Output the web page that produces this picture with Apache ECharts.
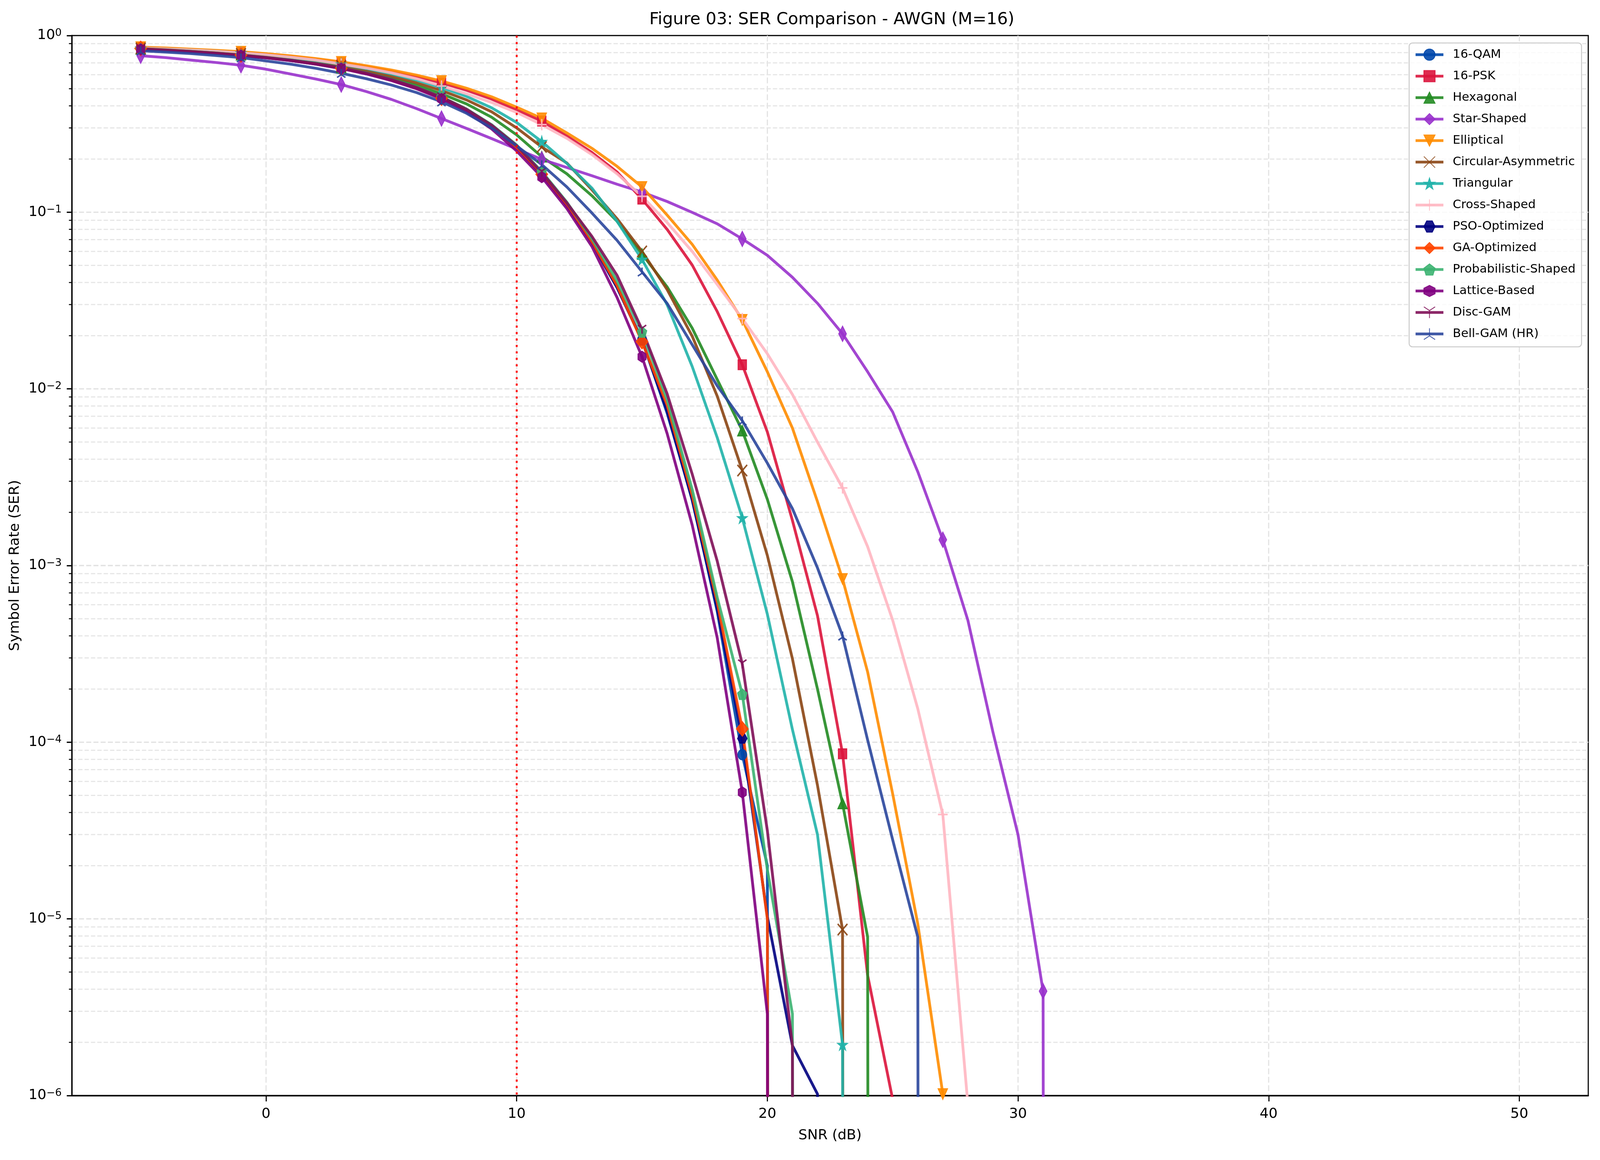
<!DOCTYPE html>
<html>
<head>
<meta charset="utf-8">
<script src="https://cdn.jsdelivr.net/npm/echarts@6/dist/echarts.min.js"></script>
<style>
html,body{margin:0;padding:0;background:#ffffff;overflow:hidden;}
#chart{width:100vw;height:100vh;}
</style>
</head>
<body>
<div id="chart"></div>
<script>
// ---------------- data ----------------
const SNR_DB = [-5,-4,-3,-2,-1,0,1,2,3,4,5,6,7,8,9,10,11,12,13,14,15,16,17,18,19,20,21,22,23,24,25,26,27,28,29,30,31,32];
const X_TICKS = [0, 10, 20, 30, 40, 50];
const Y_TICKS = [1e-6, 1e-5, 1e-4, 1e-3, 1e-2, 1e-1, 1];
const THRESHOLD_SNR = 10;
const MARK_EVERY = 4;

const SER_16QAM = [0.838,0.825,0.810,0.793,0.773,0.750,0.723,0.691,0.654,0.611,0.562,0.507,0.446,0.380,0.308,0.234,0.165,0.110,0.068,0.038,0.019,7.3e-3,2.4e-3,5.5e-4,8.5e-5,2.0e-5,0,0,0,0,0,0,0,0,0,0,0,0];
const SER_16PSK = [0.855,0.845,0.832,0.818,0.803,0.783,0.760,0.732,0.700,0.665,0.627,0.585,0.540,0.490,0.437,0.380,0.328,0.270,0.218,0.169,0.1186,0.080,0.0503,0.0274,0.0137,5.7e-3,1.8e-3,5.2e-4,8.6e-5,4.8e-6,9.5e-7,0,0,0,0,0,0,0];
const SER_HEXAGONAL = [0.840,0.828,0.814,0.798,0.779,0.756,0.729,0.697,0.660,0.618,0.572,0.522,0.468,0.410,0.345,0.274,0.206,0.165,0.124,0.089,0.058,0.0378,0.0221,0.0113,5.8e-3,2.37e-3,8.1e-4,2.0e-4,4.5e-5,7.9e-6,0,0,0,0,0,0,0,0];
const SER_STAR = [0.769,0.750,0.726,0.704,0.679,0.645,0.605,0.567,0.528,0.482,0.435,0.386,0.339,0.298,0.261,0.228,0.199,0.179,0.161,0.144,0.130,0.115,0.0998,0.086,0.0706,0.057,0.0428,0.0305,0.0205,0.0125,7.4e-3,3.4e-3,1.4e-3,4.9e-4,1.14e-4,3.0e-5,3.9e-6,0];
const SER_ELLIPTICAL = [0.860,0.850,0.838,0.825,0.810,0.790,0.767,0.740,0.710,0.675,0.638,0.597,0.553,0.503,0.450,0.393,0.340,0.281,0.230,0.182,0.139,0.0964,0.0658,0.0413,0.0246,0.0125,6.0e-3,2.3e-3,8.4e-4,2.5e-4,5.1e-5,9.4e-6,1.02e-6,0,0,0,0,0];
const SER_CIRCULAR = [0.845,0.834,0.820,0.805,0.787,0.765,0.739,0.708,0.672,0.632,0.588,0.540,0.488,0.432,0.370,0.300,0.234,0.190,0.134,0.092,0.060,0.0365,0.0199,9.1e-3,3.45e-3,1.14e-3,2.97e-4,5.7e-5,8.7e-6,0,0,0,0,0,0,0,0,0];
const SER_TRIANGULAR = [0.850,0.840,0.828,0.814,0.797,0.776,0.752,0.722,0.688,0.650,0.607,0.560,0.508,0.452,0.390,0.322,0.251,0.189,0.137,0.089,0.054,0.030,0.0134,5.3e-3,1.86e-3,5.3e-4,1.18e-4,3.0e-5,1.94e-6,0,0,0,0,0,0,0,0,0];
const SER_CROSS = [0.850,0.840,0.828,0.814,0.798,0.778,0.754,0.726,0.690,0.655,0.615,0.570,0.518,0.468,0.418,0.367,0.313,0.262,0.212,0.165,0.123,0.0875,0.060,0.039,0.025,0.0158,9.3e-3,5.0e-3,2.75e-3,1.28e-3,4.9e-4,1.55e-4,3.9e-5,8.9e-7,0,0,0,0];
const SER_PSO = [0.836,0.823,0.808,0.791,0.771,0.748,0.721,0.689,0.652,0.609,0.560,0.505,0.444,0.378,0.306,0.232,0.163,0.109,0.067,0.0375,0.0188,7.5e-3,2.35e-3,5.7e-4,1.05e-4,1.03e-5,1.92e-6,1.02e-6,0,0,0,0,0,0,0,0,0,0];
const SER_GA = [0.845,0.831,0.815,0.797,0.776,0.752,0.724,0.691,0.653,0.609,0.559,0.503,0.442,0.376,0.305,0.232,0.164,0.110,0.068,0.0385,0.0185,8.1e-3,2.5e-3,6.2e-4,1.19e-4,1.0e-5,0,0,0,0,0,0,0,0,0,0,0,0];
const SER_PROB = [0.842,0.829,0.814,0.797,0.777,0.754,0.727,0.695,0.658,0.615,0.566,0.511,0.450,0.384,0.313,0.240,0.170,0.114,0.071,0.041,0.021,8.7e-3,2.7e-3,6.6e-4,1.87e-4,1.9e-5,2.9e-6,0,0,0,0,0,0,0,0,0,0,0];
const SER_LATTICE = [0.835,0.822,0.807,0.790,0.770,0.747,0.720,0.688,0.650,0.606,0.556,0.500,0.438,0.370,0.296,0.222,0.158,0.105,0.064,0.033,0.0152,5.6e-3,1.7e-3,3.9e-4,5.2e-5,2.9e-6,0,0,0,0,0,0,0,0,0,0,0,0];
const SER_DISC_GAM = [0.840,0.827,0.812,0.795,0.775,0.752,0.725,0.693,0.656,0.613,0.564,0.509,0.448,0.382,0.311,0.238,0.168,0.113,0.073,0.044,0.0217,9.4e-3,3.3e-3,1.06e-3,2.77e-4,3.16e-5,1.92e-6,0,0,0,0,0,0,0,0,0,0,0];
const SER_BELL_GAM = [0.820,0.806,0.790,0.771,0.750,0.718,0.688,0.652,0.612,0.570,0.525,0.476,0.422,0.363,0.300,0.237,0.186,0.139,0.099,0.0694,0.046,0.0305,0.0178,0.0104,6.6e-3,3.8e-3,2.1e-3,9.7e-4,4.0e-4,1.03e-4,2.8e-5,7.9e-6,0,0,0,0,0,0];

// ---------------- styling ----------------
const FONT = 'DejaVu Sans';
const X_MIN = -7.75, X_MAX = 52.75, Y_MIN = 1e-6, Y_MAX = 1;
const ZERO_FLOOR = 1e-100; // non-positive SER is clipped to the floor on a log axis (matplotlib 'clip')

// layout is designed on a 4770 x 2970 canvas; stretch it over the actual viewport
const VW = window.innerWidth || 4770;
const VH = window.innerHeight || 2970;
const SX = VW / 4770, SY = VH / 2970;
const px = v => v * SX;   // horizontal lengths, fonts, line widths
const py = v => v * SY;   // vertical lengths

function polygonPath(n, startDeg, r) {
  let d = '';
  for (let i = 0; i < n; i++) {
    const a = (startDeg + 360 * i / n) * Math.PI / 180;
    d += (i ? 'L' : 'M') + (r + r * Math.cos(a)).toFixed(2) + ',' + (r - r * Math.sin(a)).toFixed(2);
  }
  return 'path://' + d + 'Z';
}
function starPath(n, inner, r) {
  let d = '';
  for (let i = 0; i < 2 * n; i++) {
    const rr = i % 2 ? r * inner : r;
    const a = (90 + 180 * i / n) * Math.PI / 180;
    d += (i ? 'L' : 'M') + (r + rr * Math.cos(a)).toFixed(2) + ',' + (r - rr * Math.sin(a)).toFixed(2);
  }
  return 'path://' + d + 'Z';
}
const SYM = {
  circle: { symbol: 'circle', size: [26, 26], bw: 3 },
  square: { symbol: 'rect', size: [25, 25], bw: 3 },
  triUp: { symbol: 'triangle', size: [28, 27], bw: 3 },
  thinDiamond: { symbol: 'diamond', size: [23, 39], bw: 3 },
  triDown: { symbol: 'path://M0,0L30,0L15,29Z', size: [28, 27], bw: 3 },
  x: { symbol: 'path://M0,0L29,29M29,0L0,29', size: [29, 29], bw: 4.5 },
  star: { symbol: starPath(5, 0.381966, 15), size: [29, 27], bw: 3 },
  plus: { symbol: 'path://M14.5,0L14.5,29M0,14.5L29,14.5', size: [29, 29], bw: 4.5 },
  hexFlat: { symbol: polygonPath(6, 0, 15), size: [28, 24], bw: 3 },
  diamond: { symbol: 'diamond', size: [35, 37], bw: 3 },
  pentagon: { symbol: polygonPath(5, 90, 15), size: [28, 27], bw: 3 },
  hexPointy: { symbol: polygonPath(6, 90, 15), size: [24, 28], bw: 3 },
  tri1: { symbol: 'path://M12.56,7.25L12.56,21.75M12.56,7.25L0,0M12.56,7.25L25.11,0', size: [25, 22], bw: 4.5 },
  tri2: { symbol: 'path://M12.56,14.5L12.56,0M12.56,14.5L0,21.75M12.56,14.5L25.11,21.75', size: [25, 22], bw: 4.5 }
};

const SERIES_DEFS = [
  { name: '16-QAM', values: SER_16QAM, color: '#0047AB', sym: 'circle' },
  { name: '16-PSK', values: SER_16PSK, color: '#DC143C', sym: 'square' },
  { name: 'Hexagonal', values: SER_HEXAGONAL, color: '#228B22', sym: 'triUp' },
  { name: 'Star-Shaped', values: SER_STAR, color: '#9932CC', sym: 'thinDiamond' },
  { name: 'Elliptical', values: SER_ELLIPTICAL, color: '#FF8C00', sym: 'triDown' },
  { name: 'Circular-Asymmetric', values: SER_CIRCULAR, color: '#8B4513', sym: 'x' },
  { name: 'Triangular', values: SER_TRIANGULAR, color: '#20B2AA', sym: 'star' },
  { name: 'Cross-Shaped', values: SER_CROSS, color: '#FFB6C1', sym: 'plus' },
  { name: 'PSO-Optimized', values: SER_PSO, color: '#000080', sym: 'hexFlat' },
  { name: 'GA-Optimized', values: SER_GA, color: '#FF4500', sym: 'diamond' },
  { name: 'Probabilistic-Shaped', values: SER_PROB, color: '#3CB371', sym: 'pentagon' },
  { name: 'Lattice-Based', values: SER_LATTICE, color: '#800080', sym: 'hexPointy' },
  { name: 'Disc-GAM', values: SER_DISC_GAM, color: '#7F0F58', sym: 'tri1' },
  { name: 'Bell-GAM (HR)', values: SER_BELL_GAM, color: '#2A469C', sym: 'tri2' }
];

function buildLineSeries(def) {
  const s = SYM[def.sym];
  const size = [px(s.size[0]), py(s.size[1])];
  const data = def.values.map((v, i) => ({
    value: [SNR_DB[i], v > 0 ? v : ZERO_FLOOR],
    symbol: i % MARK_EVERY === 0 ? s.symbol : 'none',
    symbolSize: size
  }));
  return {
    type: 'line',
    name: def.name,
    data: data,
    symbol: s.symbol,
    symbolSize: size,
    showSymbol: true,
    showAllSymbol: true,
    clip: true,
    smooth: false,
    z: 2,
    lineStyle: { color: def.color, width: px(8.3), opacity: 0.9, cap: 'butt', join: 'round' },
    itemStyle: { color: def.color, borderColor: def.color, borderWidth: px(s.bw), opacity: 0.9 },
    emphasis: { disabled: true },
    animation: false
  };
}

// grid decoration items: [x, y, kind] kind 0 = vertical major grid, 1 = horizontal major grid, 2 = horizontal minor grid, 3 = minor tick
const GRID_ITEMS = [];
X_TICKS.forEach(x => GRID_ITEMS.push([x, 1e-3, 0]));
Y_TICKS.forEach(y => { if (y > Y_MIN && y < Y_MAX) GRID_ITEMS.push([0, y, 1]); });
for (let e = -6; e < 0; e++) {
  for (let m = 2; m <= 9; m++) {
    const y = m * Math.pow(10, e);
    GRID_ITEMS.push([0, y, 2]);
    GRID_ITEMS.push([0, y, 3]);
  }
}

const gridSeries = {
  type: 'custom',
  name: '__grid',
  z: 0,
  silent: true,
  animation: false,
  clip: false,
  data: GRID_ITEMS,
  encode: { x: 0, y: 1 },
  renderItem: function (params, api) {
    const kind = api.value(2);
    if (kind === 0) {
      const a = api.coord([api.value(0), Y_MAX]);
      const b = api.coord([api.value(0), Y_MIN]);
      return { type: 'line', shape: { x1: a[0], y1: a[1], x2: b[0], y2: b[1] },
        style: { stroke: '#e2e2e2', lineWidth: px(3.3), lineDash: [py(15), py(6.5)] } };
    }
    if (kind === 1 || kind === 2) {
      const a = api.coord([X_MIN, api.value(1)]);
      const b = api.coord([X_MAX, api.value(1)]);
      return { type: 'line', shape: { x1: a[0], y1: a[1], x2: b[0], y2: b[1] },
        style: { stroke: kind === 1 ? '#e2e2e2' : '#e6e6e6', lineWidth: py(kind === 1 ? 3.3 : 3), lineDash: kind === 1 ? [px(15), px(6.5)] : [px(13), px(6)] } };
    }
    const a = api.coord([X_MIN, api.value(1)]);
    return { type: 'line', shape: { x1: a[0], y1: a[1], x2: a[0] - px(8.5), y2: a[1] },
      style: { stroke: '#000', lineWidth: py(2.5) } };
  }
};

const thresholdSeries = {
  type: 'custom',
  name: '__threshold',
  z: 3,
  silent: true,
  animation: false,
  data: [[THRESHOLD_SNR, 1e-3]],
  encode: { x: 0, y: 1 },
  renderItem: function (params, api) {
    const a = api.coord([api.value(0), Y_MAX]);
    const b = api.coord([api.value(0), Y_MIN]);
    return { type: 'line', shape: { x1: a[0], y1: a[1], x2: b[0], y2: b[1] },
      style: { stroke: '#ff0000', lineWidth: px(5.5), lineDash: [py(5.5), py(11)] } };
  }
};

const SUP = { '-': '\u2212' };

const option = {
  backgroundColor: '#ffffff',
  animation: false,
  title: {
    text: 'Figure 03: SER Comparison - AWGN (M=16)',
    left: px(2474), top: py(24), textAlign: 'center',
    textStyle: { fontFamily: FONT, fontSize: px(50), fontWeight: 'normal', color: '#000' }
  },
  grid: {
    left: px(214), right: VW - px(4735), top: py(91), bottom: VH - py(2805),
    show: true, borderColor: '#000', borderWidth: px(3.3), backgroundColor: 'transparent',
    containLabel: false, outerBoundsMode: 'none'
  },
  legend: {
    orient: 'vertical', left: px(4201), top: py(110),
    itemWidth: px(83), itemHeight: py(36), itemGap: py(19),
    padding: [py(12), px(18), py(15), px(15)],
    backgroundColor: 'rgba(255,255,255,0.8)', borderColor: '#cccccc', borderWidth: px(3), borderRadius: px(10),
    lineStyle: { width: px(8.3), opacity: 0.9 },
    textStyle: { fontFamily: FONT, fontSize: px(36), color: '#000', padding: [0, 0, 0, px(22)], lineHeight: py(36) },
    data: SERIES_DEFS.map(d => d.name),
    selectedMode: false
  },
  xAxis: {
    type: 'value', min: X_MIN, max: X_MAX,
    name: 'SNR (dB)', nameLocation: 'middle', nameGap: py(85),
    nameTextStyle: { fontFamily: FONT, fontSize: px(42), color: '#000' },
    axisLine: { show: true, onZero: false, lineStyle: { color: '#000', width: py(3.3) } },
    axisTick: { show: true, length: py(15), lineStyle: { color: '#000', width: px(3.3) }, customValues: X_TICKS },
    axisLabel: { show: true, margin: py(30), fontFamily: FONT, fontSize: px(42), color: '#000', customValues: X_TICKS },
    splitLine: { show: false }
  },
  yAxis: {
    type: 'log', logBase: 10, min: Y_MIN, max: Y_MAX,
    name: 'Symbol Error Rate (SER)', nameLocation: 'middle', nameGap: px(148),
    nameTextStyle: { fontFamily: FONT, fontSize: px(42), color: '#000' },
    axisLine: { show: true, onZero: false, lineStyle: { color: '#000', width: px(3.3) } },
    axisTick: { show: true, length: px(15), lineStyle: { color: '#000', width: py(3.3) } },
    axisLabel: {
      show: true, margin: px(30), color: '#000',
      formatter: function (v) {
        const e = Math.round(Math.log10(v));
        const s = String(e).split('').map(c => SUP[c] || c).join('');
        return '{b|10}{s|' + s + '}';
      },
      rich: {
        b: { fontFamily: FONT, fontSize: px(42), lineHeight: px(46), color: '#000' },
        s: { fontFamily: FONT, fontSize: px(31), lineHeight: px(31), verticalAlign: 'top', color: '#000' }
      }
    },
    splitLine: { show: false },
    minorTick: { show: false }
  },
  series: [gridSeries].concat(SERIES_DEFS.map(buildLineSeries)).concat([thresholdSeries])
};

const chart = echarts.init(document.getElementById('chart'), null, { renderer: 'canvas' });
chart.setOption(option);
</script>
</body>
</html>
